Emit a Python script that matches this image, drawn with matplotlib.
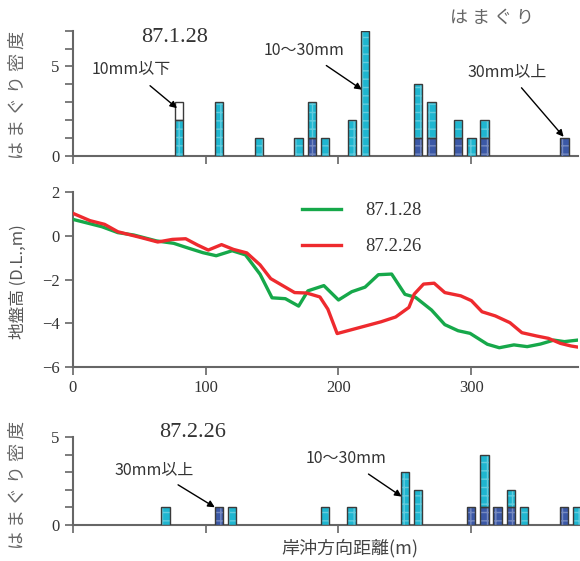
import matplotlib
matplotlib.use("Agg")
import matplotlib.pyplot as plt
import numpy as np

# ---------------- data ----------------
# top bar chart (87.1.28)
top_x = [80, 110, 140, 170, 180, 190, 210, 220, 260, 270, 290, 300, 310, 370]
top_large = [0, 0, 0, 0, 1, 0, 0, 0, 1, 1, 1, 0, 1, 1]   # 30mm以上
top_mid = [2, 3, 1, 1, 2, 1, 2, 7, 3, 2, 1, 1, 1, 0]     # 10〜30mm
top_small = [1, 0, 0, 0, 0, 0, 0, 0, 0, 0, 0, 0, 0, 0]   # 10mm以下

# bottom bar chart (87.2.26)
bot_x = [70, 110, 120, 190, 210, 250, 260, 300, 310, 320, 330, 340, 370, 380]
bot_large = [0, 1, 0, 0, 0, 0, 0, 1, 1, 1, 1, 0, 1, 0]
bot_mid = [1, 0, 1, 1, 1, 3, 2, 0, 3, 0, 1, 1, 0, 1]

# profiles
g_x = [0, 13, 22, 34, 46, 63, 76, 86, 98, 108, 120, 130, 141, 150, 160, 170, 177,
       189, 200, 210, 220, 230, 240, 250, 258, 270, 280, 290, 299, 312, 321, 332,
       342, 352, 362, 370, 380]
g_y = [0.76, 0.56, 0.42, 0.15, 0.04, -0.23, -0.34, -0.54, -0.77, -0.91, -0.68,
       -0.87, -1.76, -2.84, -2.88, -3.22, -2.52, -2.28, -2.94, -2.56, -2.35, -1.78,
       -1.75, -2.68, -2.82, -3.4, -4.07, -4.35, -4.47, -4.97, -5.13, -5.0, -5.08,
       -4.96, -4.78, -4.85, -4.78]
r_x = [0, 13, 24, 34, 51, 64, 75, 85, 94, 102, 112, 121, 131, 141, 149, 158, 167,
       176, 186, 192, 199, 210, 221, 232, 243, 253, 257, 264, 272, 280, 292, 300,
       308, 318, 329, 338, 349, 358, 367, 375, 381]
r_y = [1.04, 0.70, 0.53, 0.19, -0.07, -0.28, -0.16, -0.13, -0.42, -0.65, -0.40,
       -0.62, -0.78, -1.33, -1.96, -2.28, -2.6, -2.62, -2.8, -3.36, -4.48, -4.3,
       -4.12, -3.94, -3.72, -3.28, -2.67, -2.21, -2.17, -2.6, -2.75, -2.97, -3.48,
       -3.67, -3.98, -4.44, -4.59, -4.70, -4.93, -5.05, -5.11]

# ---------------- style ----------------
C_MID = "#1FB6D0"
C_LARGE = "#3B58A6"
C_EDGE = "#3a3a3a"
C_AX = "#666666"
C_TXT = "#333333"
SERIF = ["Liberation Serif", "DejaVu Serif"]
JP = ["Noto Sans CJK JP", "DejaVu Sans"]
ANN_FS = 11.5

fig = plt.figure(figsize=(5.8, 5.61), dpi=100)

L = 72.7 / 580
W = 505 / 580


def style_axes(ax):
    for s in ("top", "right"):
        ax.spines[s].set_visible(False)
    for s in ("left", "bottom"):
        ax.spines[s].set_color(C_AX)
        ax.spines[s].set_linewidth(1.5)
    ax.tick_params(axis="both", colors=C_AX, width=1.2, length=6, direction="out",
                   labelcolor=C_TXT, labelsize=12)
    for lab in ax.get_xticklabels() + ax.get_yticklabels():
        lab.set_family(SERIF)


def bars(ax, x, heights, bottoms, color, hatch=True):
    bw = 6.3
    if color is None:
        ax.bar(x, heights, bottom=bottoms, width=bw, color="white",
               edgecolor=C_EDGE, linewidth=1.0, zorder=3)
        return
    ax.bar(x, heights, bottom=bottoms, width=bw, color=color,
           edgecolor=(1, 1, 1, 0.3) if hatch else color, hatch="++" if hatch else None,
           linewidth=0, zorder=3)
    ax.bar(x, heights, bottom=bottoms, width=bw, fill=False,
           edgecolor=C_EDGE, linewidth=1.0, zorder=4)


def note(ax, text, xy, xytext):
    ax.annotate(text, xy=xy, xytext=xytext, family=JP, fontsize=ANN_FS,
                color=C_TXT, ha="center", va="center",
                arrowprops=dict(arrowstyle="-|>", color="black", lw=1.0, shrinkA=5,
                                shrinkB=0, mutation_scale=10))


# ---------------- top bar chart ----------------
ax1 = fig.add_axes([L, 1 - 155.7 / 561, W, 125 / 561])
tl = np.array(top_large, float)
tm = np.array(top_mid, float)
ts = np.array(top_small, float)
m = tl > 0
bars(ax1, np.array(top_x)[m], tl[m], 0, C_LARGE)
m = tm > 0
bars(ax1, np.array(top_x)[m], tm[m], tl[m], C_MID)
m = ts > 0
bars(ax1, np.array(top_x)[m], ts[m], (tl + tm)[m], None)
ax1.set_xlim(0, 380)
ax1.set_ylim(0, 7)
ax1.set_yticks(range(0, 8))
ax1.set_yticklabels(["0", "", "", "", "", "5", "", ""])
ax1.set_xticks([0, 100, 200, 300])
ax1.set_xticklabels([])
style_axes(ax1)
ax1.text(77, 6.6, "87.1.28", family=SERIF, fontsize=16, color=C_TXT, ha="center", va="center")
note(ax1, "10mm以下", (78.5, 2.66), (44, 4.8))
note(ax1, "10〜30mm", (217.6, 3.7), (174, 5.9))
note(ax1, "30mm以上", (369.4, 1.06), (327, 4.73))
fig.text(492 / 580, 1 - 18 / 561, "は ま ぐ り", family=JP, fontsize=13, color="#666666",
         ha="center", va="center")
fig.text(18 / 580, 1 - 95 / 561, "は ま ぐ り 密 度", family=JP, fontsize=13,
         color="#666666", ha="center", va="center", rotation=90)

# ---------------- middle line chart ----------------
ax2 = fig.add_axes([L, 1 - 366.7 / 561, W, 174.4 / 561])
ax2.plot(g_x, g_y, color="#16A84A", lw=2.4, label="87.1.28", zorder=3)
ax2.plot(r_x, r_y, color="#EE2A2E", lw=2.4, label="87.2.26", zorder=3)
ax2.set_xlim(0, 380)
ax2.set_ylim(-6, 2)
ax2.set_yticks([2, 0, -2, -4, -6])
ax2.set_xticks([0, 100, 200, 300])
style_axes(ax2)
ax2.legend(loc="upper left", bbox_to_anchor=(0.42, 1.04), frameon=False,
           prop={"family": SERIF, "size": 13.5}, handlelength=2.1, handletextpad=1.3,
           labelspacing=1.0, labelcolor=C_TXT)
fig.text(18 / 580, 1 - 282 / 561, "地盤高 (D.L.,m)", family=JP, fontsize=12,
         color="#555555", ha="center", va="center", rotation=90)

# ---------------- bottom bar chart ----------------
ax3 = fig.add_axes([L, 1 - 525 / 561, 507.3 / 580, 87.7 / 561])
bl = np.array(bot_large, float)
bm = np.array(bot_mid, float)
m = bl > 0
bars(ax3, np.array(bot_x)[m], bl[m], 0, C_LARGE)
m = bm > 0
bars(ax3, np.array(bot_x)[m], bm[m], bl[m], C_MID)
ax3.set_xlim(0, 382)
ax3.set_ylim(0, 5)
ax3.set_yticks(range(0, 6))
ax3.set_yticklabels(["0", "", "", "", "", "5"])
ax3.set_xticks([0, 100, 200, 300])
ax3.set_xticklabels([])
style_axes(ax3)
ax3.text(90.6, 5.3, "87.2.26", family=SERIF, fontsize=16, color=C_TXT, ha="center", va="center")
note(ax3, "30mm以上", (107, 1.01), (61, 3.14))
note(ax3, "10〜30mm", (247.7, 1.62), (205.9, 3.77))
fig.text(18 / 580, 1 - 485 / 561, "は ま ぐ り 密 度", family=JP, fontsize=13,
         color="#666666", ha="center", va="center", rotation=90)
fig.text(350 / 580, 1 - 548 / 561, "岸沖方向距離(m)", family=JP, fontsize=13,
         color="#444444", ha="center", va="center")

fig.savefig("out.png", dpi=100)
